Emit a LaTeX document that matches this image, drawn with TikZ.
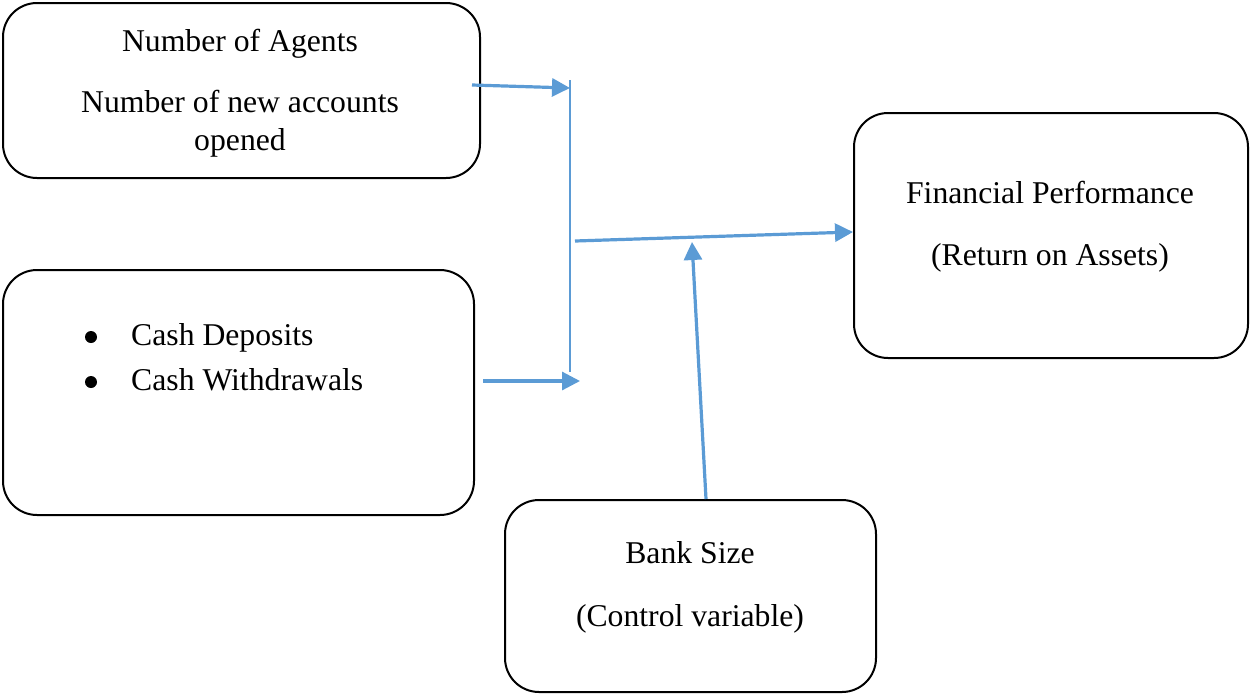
\documentclass[tikz,border=0pt]{standalone}
\usepackage{fontspec}
\setmainfont{Liberation Serif}
\usetikzlibrary{arrows.meta}
\definecolor{arrowblue}{HTML}{5B9BD5}
\tikzset{
  box/.style={draw=black, line width=2pt, rounded corners=34pt, inner sep=0pt},
  lbl/.style={inner sep=0pt, font=\fontsize{31.7}{38}\selectfont, anchor=base},
  conn/.style={draw=arrowblue, line width=3.2pt, -{Triangle[length=18pt,width=18pt]}},
  thin/.style={draw=arrowblue, line width=1.4pt}
}
\begin{document}
\begin{tikzpicture}[x=1pt,y=-1pt]
\useasboundingbox (0,0) rectangle (1250,694);
% boxes
\node[box, minimum width=477pt, minimum height=175pt] (agents) at (241.5,90.5) {};
\node[box, minimum width=471pt, minimum height=245pt] (cash) at (238.5,392.5) {};
\node[box, minimum width=394pt, minimum height=245pt] (fin) at (1051,235.5) {};
\node[box, minimum width=371pt, minimum height=192pt] (bank) at (690.5,596) {};
% texts
\node[lbl] (t1) at (240,51) {Number of Agents};
\node[lbl] (t2) at (240,112) {Number of new accounts};
\node[lbl] (t3) at (240,150) {opened};
\node[lbl] (t4) at (1050,203) {Financial Performance};
\node[lbl] (t5) at (1050,265) {(Return on Assets)};
\node[lbl] (t6) at (690,563) {Bank Size};
\node[lbl] (t7) at (690,626) {(Control variable)};
\node[lbl, anchor=base west] (t8) at (131,345) {Cash Deposits};
\node[lbl, anchor=base west] (t9) at (131,390) {Cash Withdrawals};
\fill (91,337) circle (6pt) coordinate (b1);
\fill (91,382) circle (6pt) coordinate (b2);
% connector points
\coordinate (v1) at (570,80);
\coordinate (v2) at (570,372);
\coordinate (a1s) at (472,85);
\coordinate (a1e) at (570,88);
\coordinate (a2s) at (483,381);
\coordinate (a2e) at (580,381);
\coordinate (a3s) at (575,241);
\coordinate (a4s) at (706,497);
\coordinate (a4e) at (692,242);
% connectors
\draw[thin] (v1) -- (v2);
\draw[conn] (a1s) -- (a1e);
\draw[conn] (a2s) -- (a2e);
\draw[conn] (a3s) -- (fin.west |- 0,232);
\draw[conn] (bank.north -| a4s) -- (a4e);
\end{tikzpicture}
\end{document}
